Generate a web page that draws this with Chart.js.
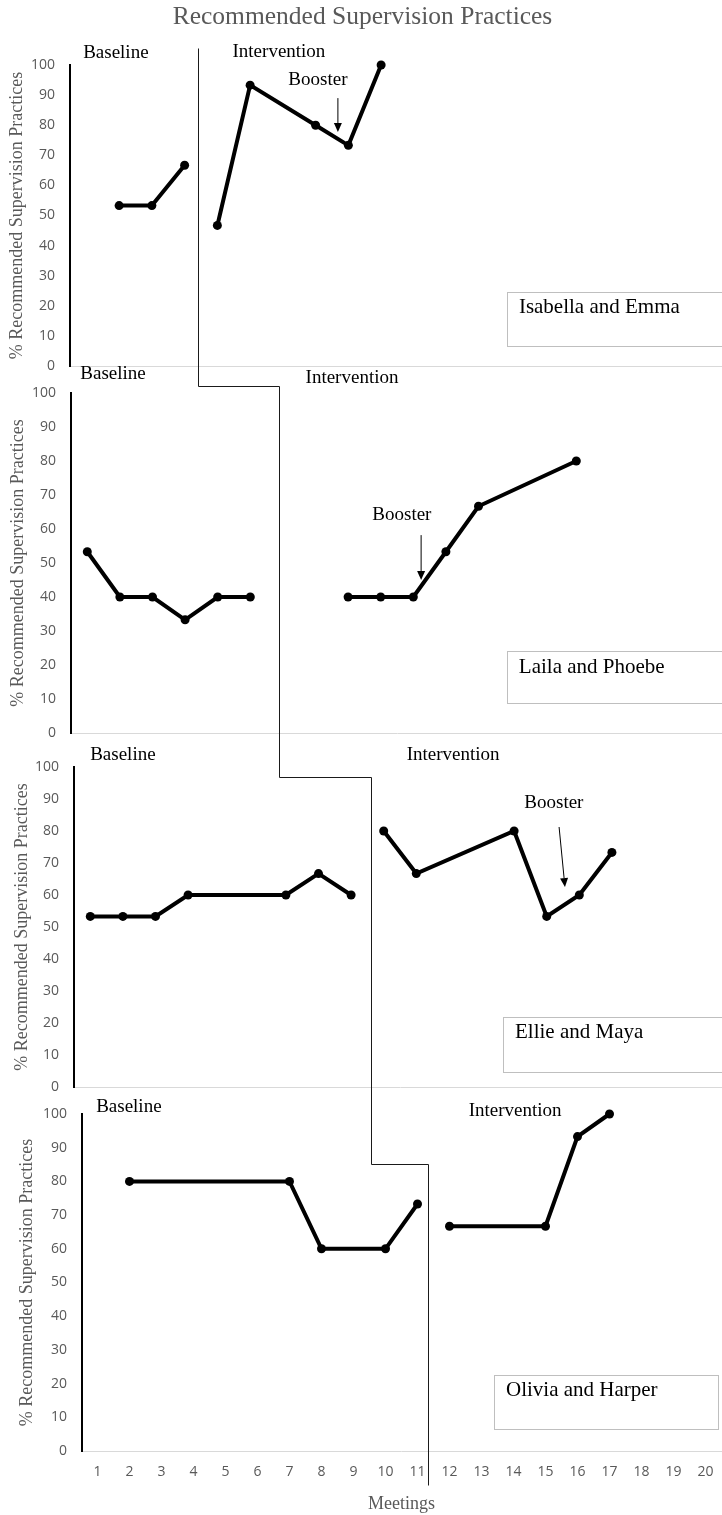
<!DOCTYPE html>
<html>
<head>
<meta charset="utf-8">
<script src="https://cdn.jsdelivr.net/npm/chart.js@4/dist/chart.umd.min.js"></script>
<style>
  html, body { margin: 0; padding: 0; background: #fff; overflow: hidden; }
  #wrap { position: relative; width: 722px; height: 1515px; overflow: hidden; }
  canvas { position: absolute; left: 0; top: 0; }
</style>
</head>
<body>
<div id="wrap">
  <canvas id="p1" width="740" height="1515"></canvas>
  <canvas id="p2" width="740" height="1515"></canvas>
  <canvas id="p3" width="740" height="1515"></canvas>
  <canvas id="p4" width="740" height="1515"></canvas>
</div>
<script>
// meetings 1..20 on the x axis
const meetings = ['1','2','3','4','5','6','7','8','9','10','11','12','13','14','15','16','17','18','19','20'];

// % recommended supervision practices per meeting (null = no session)
const isabellaBaseline     = [null, 53.3, 53.3, 66.7, null, null, null, null, null, null, null, null, null, null, null, null, null, null, null, null];
const isabellaIntervention = [null, null, null, null, 46.7, 93.3, null, 80, 73.3, 100, null, null, null, null, null, null, null, null, null, null];

const lailaBaseline     = [53.3, 40, 40, 33.3, 40, 40, null, null, null, null, null, null, null, null, null, null, null, null, null, null];
const lailaIntervention = [null, null, null, null, null, null, null, null, 40, 40, 40, 53.3, 66.7, null, null, 80, null, null, null, null];

const ellieBaseline     = [53.3, 53.3, 53.3, 60, null, null, 60, 66.7, 60, null, null, null, null, null, null, null, null, null, null, null];
const ellieIntervention = [null, null, null, null, null, null, null, null, null, 80, 66.7, null, null, 80, 53.3, 60, 73.3, null, null, null];

const oliviaBaseline     = [null, 80, null, null, null, null, 80, 60, null, 60, 73.3, null, null, null, null, null, null, null, null, null];
const oliviaIntervention = [null, null, null, null, null, null, null, null, null, null, null, 66.7, null, null, 66.7, 93.3, 100, null, null, null];

const serif = '"Liberation Serif", "Times New Roman", serif';
const sans = '"Open Sans", "DejaVu Sans", sans-serif';
const grey = '#595959';

// panel layout and annotations (annotation spots are in meeting / percent units)
const panels = [
  { id: 'p1', name: 'Isabella and Emma', baseline: isabellaBaseline, intervention: isabellaIntervention,
    box: { left: 70, right: 725, top: 65, bottom: 366 }, tickPad: 15, titlePad: 6,
    notes: [['Baseline', 1.90, 104], ['Intervention', 6.88, 104.3], ['Booster', 8.07, 95]],
    arrow: [8.68, 89, 8.68, 77.7],
    legend: [13.84, 24.6, 21, 6.6],
    phase: [4.41, 105.6] },
  { id: 'p2', name: 'Laila and Phoebe', baseline: lailaBaseline, intervention: lailaIntervention,
    box: { left: 71, right: 723, top: 393, bottom: 733 }, tickPad: 15, titlePad: 7,
    notes: [['Baseline', 1.79, 105.6], ['Intervention', 9.12, 104.4], ['Booster', 10.65, 64.1]],
    arrow: [11.24, 58.2, 11.24, 45],
    legend: [13.87, 24.1, 21, 8.8],
    phase: [6.88, 102] },
  { id: 'p3', name: 'Ellie and Maya', baseline: ellieBaseline, intervention: ellieIntervention,
    box: { left: 74, right: 726, top: 767, bottom: 1087 }, tickPad: 15, titlePad: 11,
    notes: [['Baseline', 2.0, 103.75], ['Intervention', 12.13, 103.75], ['Booster', 15.22, 88.75]],
    arrow: [15.38, 81.25, 15.56, 62.5],
    legend: [13.66, 21.9, 21, 4.7],
    phase: [9.61, 96.9] },
  { id: 'p4', name: 'Olivia and Harper', baseline: oliviaBaseline, intervention: oliviaIntervention,
    box: { left: 81.5, right: 721.5, top: 1114, bottom: 1451 }, tickPad: 14.5, titlePad: 16,
    notes: [['Baseline', 1.98, 102], ['Intervention', 14.05, 100.9]],
    arrow: null,
    legend: [13.39, 22.6, 20.39, 6.5],
    phase: [11.33, 85.2, -10.1] }
];

function notesPlugin(p) {
  return {
    id: 'notes',
    afterDatasetsDraw(chart) {
      const ctx = chart.ctx;
      const px = m => chart.scales.x.getPixelForValue(m - 1);
      const py = v => chart.scales.y.getPixelForValue(v);
      ctx.save();
      ctx.fillStyle = '#000';
      ctx.font = '19px ' + serif;
      ctx.textAlign = 'center';
      ctx.textBaseline = 'middle';
      p.notes.forEach(n => ctx.fillText(n[0], px(n[1]), py(n[2])));

      if (p.arrow) {
        const x1 = px(p.arrow[0]), y1 = py(p.arrow[1]);
        const x2 = px(p.arrow[2]), y2 = py(p.arrow[3]);
        const a = Math.atan2(y2 - y1, x2 - x1);
        const bx = x2 - 9 * Math.cos(a), by = y2 - 9 * Math.sin(a);
        ctx.strokeStyle = '#000';
        ctx.lineWidth = 1;
        ctx.beginPath();
        ctx.moveTo(x1, y1);
        ctx.lineTo(bx, by);
        ctx.stroke();
        ctx.beginPath();
        ctx.moveTo(x2, y2);
        ctx.lineTo(bx - 4 * Math.sin(a), by + 4 * Math.cos(a));
        ctx.lineTo(bx + 4 * Math.sin(a), by - 4 * Math.cos(a));
        ctx.closePath();
        ctx.fill();
      }

      // name box
      const l = px(p.legend[0]), t = py(p.legend[1]);
      const r = px(p.legend[2]), b = py(p.legend[3]);
      ctx.fillStyle = '#fff';
      ctx.fillRect(l, t, r - l, b - t);
      ctx.strokeStyle = '#bfbfbf';
      ctx.lineWidth = 1;
      ctx.strokeRect(Math.round(l) + 0.5, Math.round(t) + 0.5, Math.round(r - l), Math.round(b - t));
      ctx.fillStyle = '#000';
      ctx.font = '21px ' + serif;
      ctx.textAlign = 'left';
      ctx.fillText(p.name, l + 12, t + 16);
      ctx.restore();
    }
  };
}

// phase change line stepping down through all four panels
const phasePlugin = {
  id: 'phase',
  afterDraw(chart) {
    const list = ['p1', 'p2', 'p3'].map(id => Chart.getChart(id)).concat([chart]);
    const X = (k, m) => Math.round(list[k].scales.x.getPixelForValue(m - 1)) + 0.5;
    const Y = (k, v) => Math.round(list[k].scales.y.getPixelForValue(v)) + 0.5;
    const ctx = chart.ctx;
    ctx.save();
    ctx.strokeStyle = '#1a1a1a';
    ctx.lineWidth = 1;
    ctx.beginPath();
    ctx.moveTo(X(0, panels[0].phase[0]), Y(0, panels[0].phase[1]));
    for (let k = 1; k < panels.length; k++) {
      ctx.lineTo(X(k - 1, panels[k - 1].phase[0]), Y(k, panels[k].phase[1]));
      ctx.lineTo(X(k, panels[k].phase[0]), Y(k, panels[k].phase[1]));
    }
    const lastP = panels[panels.length - 1];
    ctx.lineTo(X(3, lastP.phase[0]), Y(3, lastP.phase[2]));
    ctx.stroke();
    ctx.restore();
  }
};

function makeChart(p, i) {
  const first = i === 0;
  const last = i === panels.length - 1;
  const xHeight = last ? 64 : 0;
  const series = d => ({
    data: d,
    borderColor: '#000',
    backgroundColor: '#000',
    borderWidth: 4,
    pointRadius: 4.5,
    pointBackgroundColor: '#000',
    pointBorderColor: '#000',
    pointBorderWidth: 0,
    tension: 0,
    spanGaps: true,
    clip: false
  });
  return new Chart(document.getElementById(p.id), {
    type: 'line',
    data: {
      labels: meetings,
      datasets: [series(p.baseline), series(p.intervention)]
    },
    options: {
      responsive: false,
      animation: false,
      devicePixelRatio: 1,
      events: [],
      layout: {
        padding: { left: 0, top: first ? 0 : p.box.top, right: 740 - p.box.right, bottom: 1515 - p.box.bottom - xHeight }
      },
      plugins: {
        legend: { display: false },
        tooltip: { enabled: false },
        title: {
          display: first,
          text: 'Recommended Supervision Practices',
          color: grey,
          font: { family: serif, size: 25.5, weight: 'normal', lineHeight: 1.2 },
          padding: { top: 2, bottom: 32.4 }
        }
      },
      scales: {
        x: {
          offset: true,
          grid: { display: false, drawTicks: false },
          border: { color: '#d9d9d9', width: 1 },
          ticks: { display: last, color: grey, font: { family: sans, size: 14 }, padding: 13, maxRotation: 0, autoSkip: false },
          title: { display: last, text: 'Meetings', color: grey, font: { family: serif, size: 18 }, padding: { top: 0, bottom: 0 } },
          afterFit: s => { s.height = xHeight; }
        },
        y: {
          min: 0,
          max: 100,
          grid: { display: false, drawTicks: false },
          border: { color: '#000', width: 2 },
          ticks: { stepSize: 10, color: grey, font: { family: sans, size: 14 }, padding: p.tickPad },
          title: {
            display: true,
            text: '% Recommended Supervision Practices',
            color: grey,
            font: { family: serif, size: 18 },
            padding: { top: p.titlePad, bottom: 0 }
          },
          afterFit: s => { s.width = p.box.left; }
        }
      }
    },
    plugins: last ? [notesPlugin(p), phasePlugin] : [notesPlugin(p)]
  });
}

panels.forEach(makeChart);
</script>
</body>
</html>
